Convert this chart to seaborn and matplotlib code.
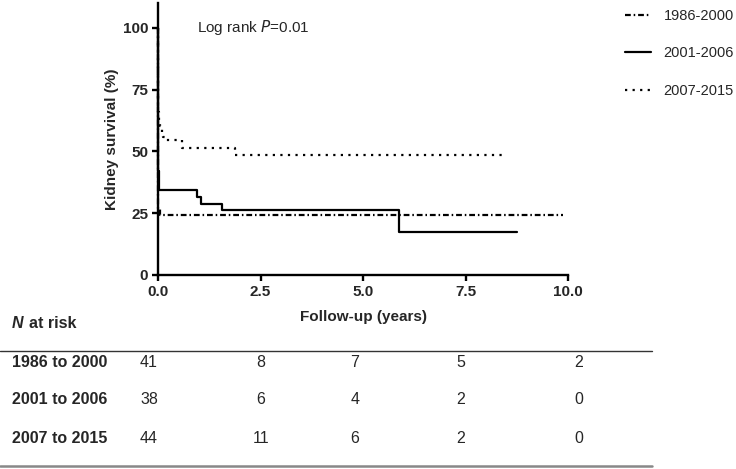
import matplotlib
matplotlib.use("Agg")
import matplotlib.pyplot as plt
from matplotlib.lines import Line2D
import seaborn as sns
import pandas as pd

# ---- data ----
groups = ["1986-2000", "2001-2006", "2007-2015"]
t_1986 = [0, 0.005, 0.05, 9.88]
s_1986 = [100, 26.8, 24.4, 24.4]
t_2001 = [0, 0.005, 0.02, 0.94, 1.04, 1.55, 5.89, 8.76]
s_2001 = [100, 42.1, 34.2, 31.6, 28.9, 26.3, 17.5, 17.5]
t_2007 = [0, 0.005, 0.02, 0.05, 0.09, 0.13, 0.2, 0.58, 1.87, 8.46]
s_2007 = [100, 66.0, 62.7, 60.3, 58.0, 56.0, 54.5, 51.5, 48.6, 48.6]

risk_rows = ["1986 to 2000", "2001 to 2006", "2007 to 2015"]
risk_1986 = [41, 8, 7, 5, 2]
risk_2001 = [38, 6, 4, 2, 0]
risk_2007 = [44, 11, 6, 2, 0]

xticks = [0, 2.5, 5, 7.5, 10]
yticks = [0, 25, 50, 75, 100]

sns.set_theme(style="ticks")
plt.rcParams["font.family"] = ["Liberation Sans", "DejaVu Sans"]

W, H = 736, 469
fig = plt.figure(figsize=(W / 100, H / 100), dpi=100)

def fx(px):
    return px / W

def fy(py):
    return 1 - py / H

ax = fig.add_axes([fx(158), fy(275), fx(568) - fx(158), fy(3) - fy(275)])

styles = [(0, (2.6, 1.3, 0.7, 1.3)), "-", (0, (1.0, 2.4))]
series = [(t_1986, s_1986), (t_2001, s_2001), (t_2007, s_2007)]
for g, (t, s), ls in zip(groups, series, styles):
    df = pd.DataFrame({"t": t, "s": s})
    sns.lineplot(data=df, x="t", y="s", ax=ax, color="black", linewidth=1.6,
                 linestyle=ls, drawstyle="steps-post", estimator=None,
                 sort=False, label=g, clip_on=False)

ax.set_xlim(0, 10)
ax.set_ylim(0, 110)
ax.set_xticks(xticks)
ax.set_xticklabels([f"{v:.1f}" for v in xticks])
ax.set_yticks(yticks)
ax.set_yticklabels([str(v) for v in yticks])
sns.despine(ax=ax)
for sp in ["left", "bottom"]:
    ax.spines[sp].set_linewidth(1.7)
    ax.spines[sp].set_color("black")
ax.tick_params(axis="both", direction="out", length=4, width=1.7, color="black",
               labelsize=11, pad=3)
for lab in ax.get_xticklabels() + ax.get_yticklabels():
    lab.set_fontweight("bold")

ax.set_ylabel("Kidney survival (%)", fontsize=11, fontweight="bold")
ax.yaxis.set_label_coords(-0.095, 0.5)
ax.set_xlabel("Follow-up (years)", fontsize=11, fontweight="bold")
ax.xaxis.set_label_coords(0.5, -0.13)

ax.text(0.95, 100, "Log rank $\\it{P}$=0.01", fontsize=11, ha="left", va="center")

leg = ax.legend(loc="upper left", bbox_to_anchor=(fx(625), fy(9)),
                bbox_transform=fig.transFigure, frameon=False, fontsize=10.5,
                handlelength=1.75, handletextpad=0.9, labelspacing=1.6,
                borderpad=0, borderaxespad=0)
for h in leg.get_lines():
    h.set_linewidth(1.6)

# ---- N at risk table ----
fig.text(fx(12), fy(323), "N", fontsize=11.5, fontweight="bold", style="italic",
         ha="left", va="center")
fig.text(fx(29), fy(323), "at risk", fontsize=11.5, fontweight="bold",
         ha="left", va="center")
fig.add_artist(Line2D([fx(0), fx(652)], [fy(351), fy(351)], color="#333333", lw=1.0))
fig.add_artist(Line2D([fx(0), fx(652)], [fy(466), fy(466)], color="#888888", lw=1.8))
col_x = [149, 261, 355, 461, 579]
row_y = [362, 400, 438]
for name, vals, yy in zip(risk_rows, [risk_1986, risk_2001, risk_2007], row_y):
    fig.text(fx(12), fy(yy), name, fontsize=11.5, fontweight="bold", ha="left", va="center")
    for v, xx in zip(vals, col_x):
        fig.text(fx(xx), fy(yy), str(v), fontsize=11.5, ha="center", va="center")

fig.savefig("out.png", dpi=100)
